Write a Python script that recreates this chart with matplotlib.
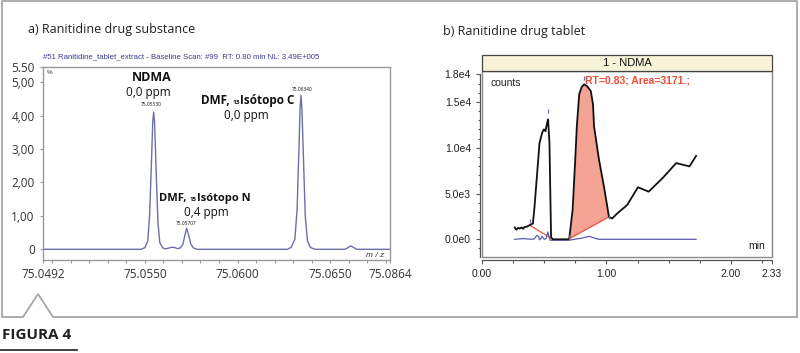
import matplotlib
matplotlib.use("Agg")
import matplotlib.pyplot as plt
import numpy as np
from matplotlib.patches import Rectangle
from matplotlib.lines import Line2D
from matplotlib.ticker import MultipleLocator
from matplotlib.offsetbox import TextArea, HPacker, AnnotationBbox

W, H = 800, 353

# ---------------- data: panel a (mass spectrum) ----------------
mz = [75.0494, 75.0530, 75.05480, 75.05500, 75.05515, 75.05525, 75.05535, 75.05542, 75.05547,
      75.05552, 75.05560, 75.05570, 75.05580, 75.05595, 75.05610, 75.05630, 75.05645, 75.05653,
      75.05662, 75.05675, 75.05690, 75.05705, 75.05715, 75.05725, 75.05735, 75.05748, 75.05762,
      75.05780, 75.0600, 75.06270, 75.06290, 75.06310, 75.06322, 75.06332, 75.06338, 75.06343,
      75.06348, 75.06356, 75.06366, 75.06378, 75.06395, 75.06420, 75.0650, 75.06580, 75.06600,
      75.06612, 75.06625, 75.06645, 75.0682]
intensity = [0, 0, 0, 0.05, 0.25, 1.0, 2.6, 3.8, 4.10,
             3.8, 2.4, 0.8, 0.2, 0.05, 0.01, 0.04, 0.06, 0.06,
             0.05, 0.02, 0.04, 0.15, 0.40, 0.63, 0.45, 0.15, 0.04,
             0, 0, 0, 0.06, 0.3, 1.2, 3.0, 4.2, 4.60,
             4.2, 2.8, 1.0, 0.25, 0.05, 0, 0, 0, 0.06,
             0.10, 0.06, 0, 0]
a_xticks = [75.04949, 75.0550, 75.0600, 75.0650, 75.06824]
a_xticklabels = ["75.0492", "75.0550", "75.0600", "75.0650", "75.0864"]
a_yticks = [0, 1, 2, 3, 4, 5, 5.45]
a_yticklabels = ["0", "1,00", "2,00", "3,00", "4,00", "5,00", "5.50"]

# ---------------- data: panel b (chromatogram) ----------------
t_black = [0.263, 0.275, 0.290, 0.303, 0.318, 0.330, 0.343, 0.360, 0.382, 0.409, 0.422, 0.441,
           0.462, 0.483, 0.497, 0.510, 0.523, 0.531, 0.542, 0.555, 0.568, 0.688, 0.701, 0.728,
           0.749, 0.762, 0.781, 0.800, 0.821, 0.845, 0.874, 0.892, 0.900, 0.940, 0.980, 1.020,
           1.046, 1.086, 1.166, 1.253, 1.339, 1.453, 1.560, 1.667, 1.720]
c_black = [1285, 1050, 1250, 1175, 1300, 1150, 1355, 1380, 1540, 1725, 3550, 6850,
           10500, 11620, 12000, 11800, 12700, 13080, 10500, 250, 0, 0, 77, 3190,
           8680, 12340, 15820, 16600, 16920, 16700, 16190, 14700, 12340, 8680, 5750, 2450,
           2270, 2820, 3740, 5680, 5200, 6710, 8320, 7960, 9100]
t_blue = [0.263, 0.330, 0.396, 0.420, 0.441, 0.455, 0.462, 0.473, 0.483, 0.500, 0.515, 0.529,
          0.547, 0.701, 0.741, 0.800, 0.861, 0.900, 0.940, 1.720]
c_blue = [0, 80, 0, 50, 440, 300, -60, 100, 330, 0, 100, 800,
          -100, -100, 0, 120, 330, 150, 0, 0]
peak_start, peak_end = 0.701, 1.020
base1_t = [0.382, 0.555]
base1_c = [1540, 130]
b_yticks = [0, 5000, 10000, 15000, 18000]
b_yticklabels = ["0.0e0", "5.0e3", "1.0e4", "1.5e4", "1.8e4"]
b_xticks = [0.0, 1.0, 2.0, 2.33]
b_xticklabels = ["0.00", "1.00", "2.00", "2.33"]


def rect(x0, y0, x1, y1):
    return [x0 / W, 1 - y1 / H, (x1 - x0) / W, (y1 - y0) / H]


def fx(px):
    return px / W


def fy(py):
    return 1 - py / H


fig = plt.figure(figsize=(8.0, 3.53), dpi=100)

# ---------------- outer frame ----------------
frame_x = [797, 797, 2, 2, 23, 38, 53, 797]
frame_y = [317, 1, 1, 317, 317, 294, 317, 317]
fig.add_artist(Line2D([fx(v) for v in frame_x], [fy(v) for v in frame_y],
                      color="#a6a6a6", lw=1.3, transform=fig.transFigure))
fig.text(fx(2), fy(335), "FIGURA 4", family="Open Sans", fontweight="bold",
         fontsize=11, color="#231f20", va="center", ha="left")
fig.add_artist(Line2D([fx(0), fx(77)], [fy(350), fy(350)], color="#231f20", lw=1.2,
                      transform=fig.transFigure))

# ---------------- panel a ----------------
fig.text(fx(28), fy(30), "a) Ranitidine drug substance", family="Open Sans",
         fontsize=9, color="#231f20", va="center", ha="left")
axa = fig.add_axes(rect(43, 67, 390, 260))
axa.plot(mz, intensity, color="#6e6eaa", lw=1.0)
axa.set_xlim(75.04949, 75.06824)
axa.set_ylim(-0.32, 5.45)
axa.set_xticks(a_xticks)
axa.set_xticklabels(a_xticklabels)
axa.set_yticks(a_yticks)
axa.set_yticklabels(a_yticklabels)
axa.xaxis.set_minor_locator(MultipleLocator(0.001))
for s in axa.spines.values():
    s.set_color("#9a9a9a")
    s.set_linewidth(1.0)
axa.tick_params(axis="both", which="both", colors="#9a9a9a", labelcolor="#333333",
                labelsize=8.5, length=2.5, width=0.8)
axa.tick_params(axis="x", which="minor", length=2)
for lab in axa.get_xticklabels() + axa.get_yticklabels():
    lab.set_family("Open Sans")
axa.text(0.0, 1.035, "#51 Ranitidine_tablet_extract - Baseline Scan: #99  RT: 0.80 min NL: 3.49E+005",
         transform=axa.transAxes, family="Liberation Sans", fontsize=5.6, color="#3a3a8a",
         ha="left", va="bottom")
axa.text(0.012, 0.985, "%", transform=axa.transAxes, family="Liberation Sans",
         fontsize=4.5, color="#333333", ha="left", va="top")
axa.text(0.985, 0.005, "m / z", transform=axa.transAxes, family="Liberation Sans",
         fontsize=6, style="italic", color="#333333", ha="right", va="bottom")

lab_kw = dict(family="Open Sans", color="#111111", ha="center", va="center")


def sub_label(ax, x, y, pre, sub, post, size):
    bold = dict(family="Open Sans", fontweight="bold", fontsize=size, color="#111111")
    small = dict(family="Open Sans", fontweight="bold", fontsize=size * 0.55, color="#111111")
    box = HPacker(children=[TextArea(pre, textprops=bold),
                            TextArea(sub, textprops=small),
                            TextArea(post, textprops=bold)],
                  align="baseline", pad=0, sep=0)
    ab = AnnotationBbox(box, (x, y), xycoords="data", frameon=False, pad=0,
                        box_alignment=(0.5, 0.5), annotation_clip=False)
    ax.add_artist(ab)


axa.text(75.05538, 5.15, "NDMA", fontweight="bold", fontsize=9, **lab_kw)
axa.text(75.05519, 4.70, "0,0 ppm", fontsize=8.5, **lab_kw)
axa.text(75.05536, 4.34, "75.05530", fontsize=3.5, **lab_kw)
sub_label(axa, 75.06054, 4.44, "DMF, ", "13", "Isótopo C", 8.5)
axa.text(75.06050, 3.99, "0,0 ppm", fontsize=8.5, **lab_kw)
axa.text(75.06347, 4.78, "75.06340", fontsize=3.5, **lab_kw)
sub_label(axa, 75.05824, 1.52, "DMF, ", "15", "Isótopo N", 8.0)
axa.text(75.05833, 1.11, "0,4 ppm", fontsize=8.5, **lab_kw)
axa.text(75.05725, 0.78, "75.05707", fontsize=3.5, **lab_kw)

# ---------------- panel b ----------------
fig.text(fx(443), fy(32), "b) Ranitidine drug tablet", family="Open Sans",
         fontsize=9, color="#231f20", va="center", ha="left")
axb = fig.add_axes(rect(482, 71, 772, 257))
axb.set_xlim(0, 2.33)
axb.set_ylim(-1930, 18370)

tb = np.array(t_black)
cb = np.array(c_black)
seg = (tb >= peak_start) & (tb <= peak_end)
base_seg = np.interp(tb[seg], [peak_start, peak_end],
                     [np.interp(peak_start, tb, cb), np.interp(peak_end, tb, cb)])
axb.fill_between(tb[seg], cb[seg], base_seg, color="#f4a394", lw=0, zorder=1)
axb.plot([peak_start, peak_end], [base_seg[0], base_seg[-1]], color="#e85a45", lw=0.9, zorder=2)
axb.plot(base1_t, base1_c, color="#e85a45", lw=0.9, zorder=2)
axb.plot(t_blue, c_blue, color="#5c5cb0", lw=0.9, zorder=3)
axb.plot(t_black, c_black, color="#111111", lw=1.3, zorder=4)
# integration markers
axb.plot([base1_t[0], 0.531, 0.821, peak_start, peak_end],
         [1540 + 500, 13080 + 900, 16920 + 650, 300, 2450], ls="none", marker="|",
         ms=3.5, mew=0.9, color="#6a6ad0", zorder=5)

axb.spines["top"].set_color("#8a8a8a")
axb.spines["right"].set_color("#8a8a8a")
axb.spines["left"].set_position(("outward", 1.5))
axb.spines["bottom"].set_position(("outward", 2.0))
axb.spines["left"].set_bounds(-1930, 18000)
axb.spines["bottom"].set_bounds(0, 2.33)
for side in ("left", "bottom"):
    axb.spines[side].set_color("#555555")
    axb.spines[side].set_linewidth(0.9)
axb.add_patch(Rectangle((0, 0), 1, 1, transform=axb.transAxes, fill=False,
                        edgecolor="#8a8a8a", lw=1.0, zorder=6, clip_on=False))
axb.set_yticks(b_yticks)
axb.set_yticklabels(b_yticklabels)
axb.set_xticks(b_xticks)
axb.set_xticklabels(b_xticklabels)
axb.yaxis.set_minor_locator(MultipleLocator(1000))
axb.xaxis.set_minor_locator(MultipleLocator(0.25))
axb.tick_params(axis="both", which="both", colors="#555555", labelcolor="#222222",
                labelsize=7.5, width=0.8)
axb.tick_params(which="major", length=3)
axb.tick_params(which="minor", length=1.8)
for lab in axb.get_xticklabels() + axb.get_yticklabels():
    lab.set_family("Liberation Sans")
axb.text(0.03, 0.935, "counts", transform=axb.transAxes, family="Liberation Sans",
         fontsize=7.5, color="#222222", ha="left", va="center")
axb.text(0.975, 0.06, "min", transform=axb.transAxes, family="Liberation Sans",
         fontsize=7.5, color="#222222", ha="right", va="center")
axb.text(0.830, 17350, "RT=0.83; Area=3171.;", family="Liberation Sans", fontweight="bold",
         fontsize=7.5, color="#f04a38", ha="left", va="center")

# title bar
fig.add_artist(Rectangle((fx(482), fy(71)), fx(772) - fx(482), fy(55) - fy(71),
                         transform=fig.transFigure, facecolor="#f8f2d8",
                         edgecolor="#444444", lw=0.9))
fig.text((fx(482) + fx(772)) / 2, fy(63), "1 - NDMA", family="Liberation Sans",
         fontsize=8, color="#111111", ha="center", va="center")

fig.savefig("out.png", dpi=100)
